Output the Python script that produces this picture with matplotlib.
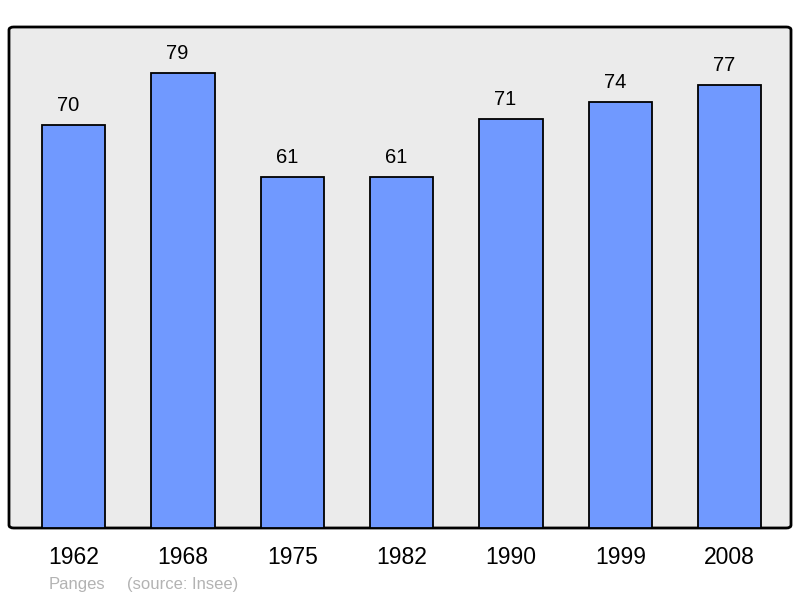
import numpy as np
import matplotlib.pyplot as plt
from matplotlib.patches import FancyBboxPatch

years = ["1962", "1968", "1975", "1982", "1990", "1999", "2008"]
population = [70, 79, 61, 61, 71, 74, 77]

plt.rcParams['font.family'] = ['Liberation Sans', 'DejaVu Sans']

fig = plt.figure(figsize=(8, 5.98), dpi=100)
ax = fig.add_axes([9/800, 1 - 528/598, 782/800, 501/598])

x = np.arange(len(years))
ax.bar(x, population, width=0.58, color='#7099ff', edgecolor='black',
       linewidth=1.3, zorder=2)

# value labels sit a bit left of bar centre, like the original
for xi, v in zip(x, population):
    ax.annotate(str(v), (xi, v), xytext=(-4, 7), textcoords='offset points',
                ha='center', va='bottom', fontsize=14.5)

ax.set_xlim(-0.59, 6.56)
ax.set_ylim(0, 87)
ax.set_xticks(x)
ax.set_xticklabels(years, fontsize=16.5)
ax.tick_params(axis='x', length=0, pad=13)
ax.set_yticks([])
ax.set_facecolor('none')
for s in ax.spines.values():
    s.set_visible(False)

frame = FancyBboxPatch((0, 0), 1, 1, boxstyle='round,pad=0,rounding_size=0.006',
                       transform=ax.transAxes, facecolor='#ebebeb',
                       edgecolor='black', linewidth=2, zorder=0, clip_on=False)
ax.add_patch(frame)

fig.text(49/800, 1 - 584/598, "Panges", fontsize=12,
         color='#b3b3b3', va='center', ha='left')
fig.text(127/800, 1 - 584/598, "(source: Insee)", fontsize=12,
         color='#b3b3b3', va='center', ha='left')

fig.savefig('out.png', dpi=100)
